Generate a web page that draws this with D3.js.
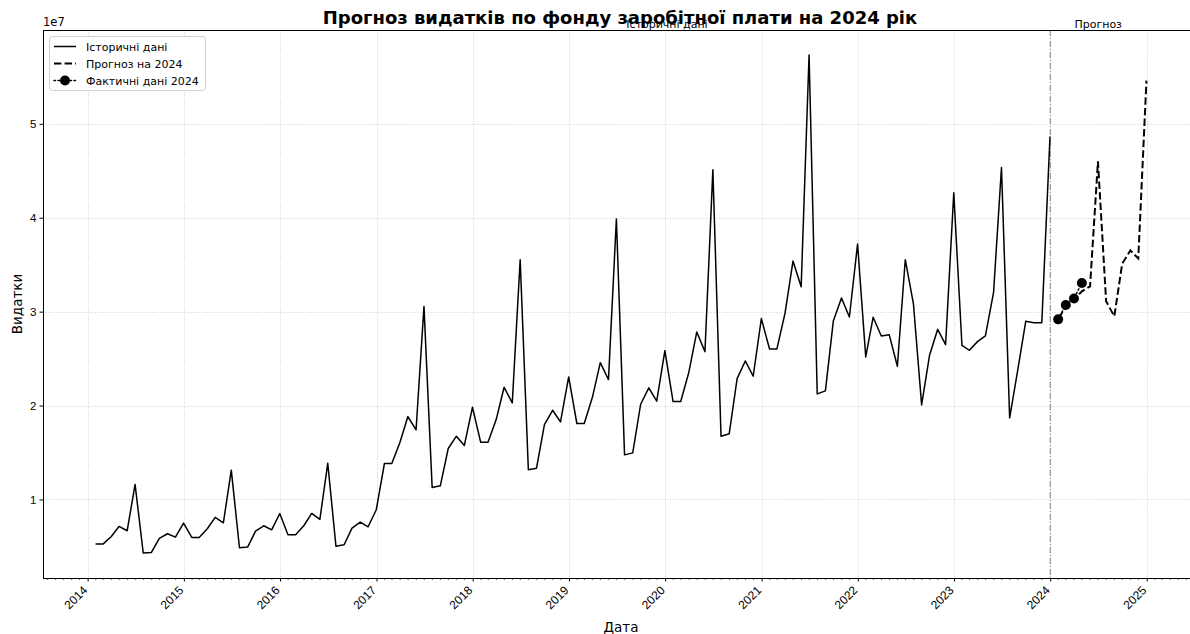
<!DOCTYPE html>
<html>
<head>
<meta charset="utf-8">
<script src="https://cdn.jsdelivr.net/npm/d3@7"></script>
<style>
  html, body { margin: 0; padding: 0; background: #fff; }
  svg { display: block; font-family: "DejaVu Sans", sans-serif; }
</style>
</head>
<body>
<svg id="chart" width="1190" height="634"></svg>
<script>
// Monthly payroll expenditure (month-end dates)
const histStart = "2014-01";          // first historical month
const histValues = [
  5250000, 5250000, 6030000, 7130000, 6670000, 11600000, 4290000, 4360000, 5850000, 6350000, 5990000, 7480000,
  5960000, 5960000, 6880000, 8090000, 7520000, 13120000, 4860000, 4930000, 6630000, 7200000, 6770000, 8510000,
  6240000, 6240000, 7200000, 8510000, 7870000, 13860000, 5030000, 5180000, 6950000, 7590000, 7090000, 8900000,
  13830000, 13830000, 16100000, 18830000, 17410000, 30560000, 11280000, 11450000, 15430000, 16740000, 15740000, 19820000,
  16100000, 16100000, 18510000, 21950000, 20280000, 35530000, 13160000, 13330000, 17980000, 19500000, 18260000, 23050000,
  18090000, 18090000, 20880000, 24570000, 22770000, 39860000, 14750000, 14960000, 20140000, 21880000, 20460000, 25850000,
  20430000, 20430000, 23550000, 27840000, 25740000, 45100000, 16740000, 16990000, 22870000, 24750000, 23120000, 29260000,
  26030000, 26030000, 29860000, 35390000, 32660000, 57340000, 21240000, 21560000, 29000000, 31450000, 29430000, 37200000,
  25180000, 29400000, 27410000, 27550000, 24180000, 35530000, 30820000, 20070000, 25350000, 28120000, 26490000, 42660000,
  26420000, 25890000, 26810000, 27410000, 32060000, 45350000, 18690000, 23830000, 28970000, 28830000, 28830000, 48650000
];
const forecastStart = "2024-01";
const forecastValues = [
  29300000, 30400000, 31300000, 32160000, 32700000, 46000000, 31100000, 29500000, 35100000, 36520000, 35670000, 54600000
];
const actualStart = "2024-01";
const actualValues = [29180000, 30710000, 31410000, 33050000];

const yTicks = [10000000, 20000000, 30000000, 40000000, 50000000];
const yTickLabels = ["1", "2", "3", "4", "5"];
const yOffsetLabel = "1e7";
const xTickYears = [2014, 2015, 2016, 2017, 2018, 2019, 2020, 2021, 2022, 2023, 2024, 2025];

const titleText = "Прогноз видатків по фонду заробітної плати на 2024 рік";
const xLabel = "Дата";
const yLabel = "Видатки";
const legendLabels = ["Історичні дані", "Прогноз на 2024", "Фактичні дані 2024"];
const histAnnot = "Історичні дані";
const forecastAnnot = "Прогноз";

// month-end dates starting at a given month
const parseMonth = d3.utcParse("%Y-%m");
function monthEnds(start, n) {
  const s = parseMonth(start);
  return d3.range(n).map(i => new Date(Date.UTC(s.getUTCFullYear(), s.getUTCMonth() + i + 1, 0)));
}
const hist = monthEnds(histStart, histValues.length).map((d, i) => ({ date: d, value: histValues[i] }));
const fc = monthEnds(forecastStart, forecastValues.length).map((d, i) => ({ date: d, value: forecastValues[i] }));
const act = monthEnds(actualStart, actualValues.length).map((d, i) => ({ date: d, value: actualValues[i] }));

const svg = d3.select("#chart");
const m = { left: 43, top: 30, right: 1199, bottom: 578 };

// axis limits with 5% padding around the data
const allDates = hist.concat(fc).map(d => d.date);
const tMin = d3.min(allDates).getTime(), tMax = d3.max(allDates).getTime();
const tPad = (tMax - tMin) * 0.05;
const allVals = histValues.concat(forecastValues, actualValues);
const vMin = d3.min(allVals), vMax = d3.max(allVals);
const vPad = (vMax - vMin) * 0.05;

const x = d3.scaleUtc().domain([new Date(tMin - tPad), new Date(tMax + tPad)]).range([m.left, m.right]);
const y = d3.scaleLinear().domain([vMin - vPad, vMax + vPad]).range([m.bottom, m.top]);

svg.append("defs").append("clipPath").attr("id", "plotclip")
  .append("rect").attr("x", m.left).attr("y", m.top).attr("width", m.right - m.left).attr("height", m.bottom - m.top);

const yearDates = xTickYears.map(yr => new Date(Date.UTC(yr, 0, 1)));

// grid
const grid = svg.append("g").attr("stroke", "#b0b0b0").attr("stroke-width", 0.8)
  .attr("stroke-dasharray", "1,1.6").attr("opacity", 0.7);
grid.selectAll("line.v").data(yearDates).join("line")
  .attr("x1", d => Math.round(x(d)) + 0.5).attr("x2", d => Math.round(x(d)) + 0.5)
  .attr("y1", m.top).attr("y2", m.bottom);
grid.selectAll("line.h").data(yTicks).join("line")
  .attr("x1", m.left).attr("x2", m.right)
  .attr("y1", d => Math.round(y(d)) + 0.5).attr("y2", d => Math.round(y(d)) + 0.5);

// divider between history and forecast
svg.append("line")
  .attr("x1", x(new Date(Date.UTC(2024, 0, 1)))).attr("x2", x(new Date(Date.UTC(2024, 0, 1))))
  .attr("y1", m.top).attr("y2", m.bottom)
  .attr("stroke", "#7f7f7f").attr("stroke-width", 1)
  .attr("stroke-dasharray", "6,2,1,2");

const plot = svg.append("g").attr("clip-path", "url(#plotclip)");
const line = d3.line().x(d => x(d.date)).y(d => y(d.value));

plot.append("path").datum(hist).attr("d", line)
  .attr("fill", "none").attr("stroke", "#000").attr("stroke-width", 1.5).attr("stroke-linejoin", "round");
plot.append("path").datum(fc).attr("d", line)
  .attr("fill", "none").attr("stroke", "#000").attr("stroke-width", 2).attr("stroke-dasharray", "7.4,3.2");
plot.append("path").datum(act).attr("d", line)
  .attr("fill", "none").attr("stroke", "#000").attr("stroke-width", 1.5).attr("stroke-dasharray", "1.5,2.5")
  .attr("stroke-linecap", "round");
plot.selectAll("circle.act").data(act).join("circle")
  .attr("cx", d => x(d.date)).attr("cy", d => y(d.value)).attr("r", 5).attr("fill", "#000");

// axes
const xAxis = d3.axisBottom(x).tickValues(yearDates).tickFormat(d3.utcFormat("%Y")).tickSize(3.5).tickPadding(2);
const gx = svg.append("g").attr("transform", `translate(0,${m.bottom})`).call(xAxis);
gx.select(".domain").remove();
gx.selectAll("text").attr("font-size", 12).attr("fill", "#000")
  .attr("text-anchor", "end").attr("dy", null)
  .attr("transform", "translate(0,13) rotate(-45)")
  .attr("y", 0).attr("x", 0);

const minorDates = d3.utcMonth.range(x.domain()[0], x.domain()[1]).filter(d => d.getUTCMonth() !== 0);
svg.append("g").selectAll("line").data(minorDates).join("line")
  .attr("x1", d => x(d)).attr("x2", d => x(d))
  .attr("y1", m.bottom).attr("y2", m.bottom + 2)
  .attr("stroke", "#000").attr("stroke-width", 0.6);

const yAxis = d3.axisLeft(y).tickValues(yTicks).tickFormat((d, i) => yTickLabels[i]).tickSize(3.5).tickPadding(3);
const gy = svg.append("g").attr("transform", `translate(${m.left},0)`).call(yAxis);
gy.select(".domain").remove();
gy.selectAll("text").attr("font-size", 11.5).attr("fill", "#000");

// spines (left, top, bottom)
const spine = svg.append("g").attr("stroke", "#000").attr("stroke-width", 1).attr("fill", "none");
spine.append("line").attr("x1", m.left + 0.5).attr("x2", m.left + 0.5).attr("y1", m.top).attr("y2", m.bottom);
spine.append("line").attr("x1", m.left).attr("x2", m.right).attr("y1", m.top + 0.5).attr("y2", m.top + 0.5);
spine.append("line").attr("x1", m.left).attr("x2", m.right).attr("y1", m.bottom + 0.5).attr("y2", m.bottom + 0.5);
spine.append("line").attr("x1", m.right - 0.5).attr("x2", m.right - 0.5).attr("y1", m.top).attr("y2", m.bottom);

svg.append("text").attr("x", m.left).attr("y", 26).attr("font-size", 11.5).text(yOffsetLabel);

// region annotations
svg.append("text").attr("x", x(new Date(Date.UTC(2020, 0, 8)))).attr("y", 28)
  .attr("text-anchor", "middle").attr("font-size", 11).text(histAnnot);
svg.append("text").attr("x", x(new Date(Date.UTC(2024, 6, 1)))).attr("y", 28)
  .attr("text-anchor", "middle").attr("font-size", 11).text(forecastAnnot);

// title
svg.append("text").attr("x", (m.left + m.right) / 2 - 1).attr("y", 24)
  .attr("text-anchor", "middle").attr("font-size", 18).attr("font-weight", "bold").text(titleText);

// axis labels
svg.append("text").attr("x", (m.left + m.right) / 2).attr("y", 632)
  .attr("text-anchor", "middle").attr("font-size", 13.5).text(xLabel);
svg.append("text").attr("transform", `translate(22,${(m.top + m.bottom) / 2}) rotate(-90)`)
  .attr("text-anchor", "middle").attr("font-size", 13.5).text(yLabel);

// legend
const lg = svg.append("g").attr("transform", "translate(49,36)");
lg.append("rect").attr("x", 0.5).attr("y", 0.5).attr("width", 156).attr("height", 54).attr("rx", 3)
  .attr("fill", "#fff").attr("fill-opacity", 0.8).attr("stroke", "#d0d0d0");
const rows = [0, 1, 2].map(i => 10.5 + i * 17);
lg.append("line").attr("x1", 5).attr("x2", 27).attr("y1", rows[0]).attr("y2", rows[0])
  .attr("stroke", "#000").attr("stroke-width", 1.5);
lg.append("line").attr("x1", 5).attr("x2", 27).attr("y1", rows[1]).attr("y2", rows[1])
  .attr("stroke", "#000").attr("stroke-width", 2).attr("stroke-dasharray", "7.4,3.2");
lg.append("line").attr("x1", 5).attr("x2", 27).attr("y1", rows[2]).attr("y2", rows[2])
  .attr("stroke", "#000").attr("stroke-width", 1.5).attr("stroke-dasharray", "1.5,2.5").attr("stroke-linecap", "round");
lg.append("circle").attr("cx", 16).attr("cy", rows[2]).attr("r", 5).attr("fill", "#000");
lg.selectAll("text.l").data(legendLabels).join("text")
  .attr("x", 37).attr("y", (d, i) => rows[i] + 4).attr("font-size", 11).text(d => d);
</script>
</body>
</html>
